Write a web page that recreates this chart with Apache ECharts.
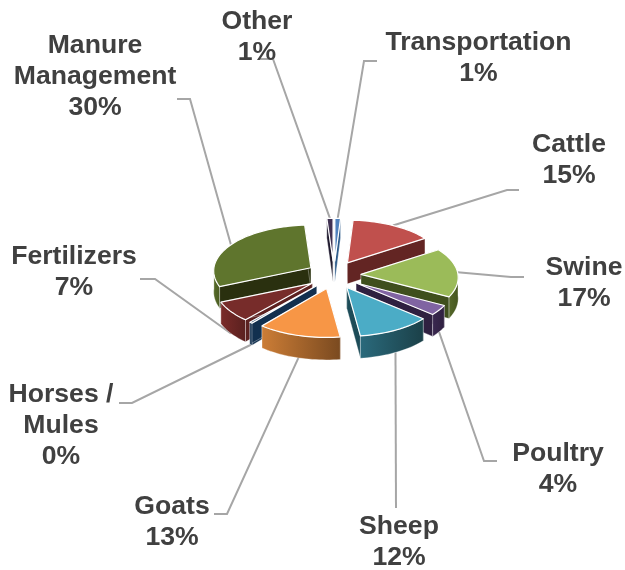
<!DOCTYPE html>
<html>
<head>
<meta charset="utf-8">
<style>html,body{margin:0;padding:0;background:#fff}#c{width:625px;height:570px}</style>
<script src="https://cdn.jsdelivr.net/npm/echarts@6/dist/echarts.min.js"></script>
</head>
<body>
<div id="c"></div>
<script>
// ---- data (share of total, clockwise from 12 o'clock)
var categories = ['Transportation','Cattle','Swine','Poultry','Sheep','Goats','Horses /\nMules','Fertilizers','Manure\nManagement','Other'];
var shares = [1.0,14.6,17.3,3.5,11.5,13.0,0.45,7.1,30.45,1.1];

// ---- styles
var topColors  = ['#4f81bd','#c0504d','#9bbb59','#8064a2','#4bacc6','#f79646','#17375e','#772c2a','#5f752d','#403152'];
var cutColors  = ['#2c5a8a','#632523','#3f4f1d','#2f2040','#1d4c58','#8a5020','#12304f','#5c2120','#2a300f','#1f1a2e'];
var rimColors  = [['#2c5a8a','#2c5a8a'],['#632523','#632523'],['#55682a','#44551f'],['#3a2850','#2f2040'],['#2a6a7c','#1b4048'],['#cc7d36','#7a4a20'],['#12304f','#12304f'],['#7a2b29','#5a201f'],['#566b28','#4a5c22'],['#1f1a2e','#1f1a2e']];

// ---- pie geometry
var CX = 334, CY = 275, RX = 97, RY = 45.85, PERSP = 0.0687, DEPTH = 21, EX = 27, EY = 14;

// ---- label layout: text centre [x,y], elbow start [x,y], elbow knee [x,y]
var labelCentres = [[478.5,58],[569,160],[584,283],[558,469],[399,542],[172,522],[61,426],[74,272],[95,77],[257,37]];
var leaderEnds   = [[377,61],[519,190],[524,277],[497,461],[396,508],[214,514],[119,403],[140,279],[177,99],[258,59]];
var leaderKnees  = [[364,61],[507,190],[511,277],[484,461],[396,508],[227,514],[132,403],[155,279],[190,99],[273,59]];

var total = shares.reduce(function(a,b){return a+b;},0);
var slices = [], cum = 0;
shares.forEach(function(v,i){
  var a0 = cum/total*360; cum += v; var a1 = cum/total*360;
  var mid = (a0+a1)/2*Math.PI/180;
  slices.push({i:i,a0:a0,a1:a1,mid:mid,ax:CX+EX*Math.sin(mid),ay:CY-EY*Math.cos(mid)});
});
function proj(s,deg,drop){
  var t = deg*Math.PI/180, c = Math.cos(t), k = 1-PERSP*c;
  return [s.ax+RX*Math.sin(t)*k, s.ay-RY*c*k+(drop?DEPTH*k:0)];
}
function arc(s,a,b,drop){
  var pts=[], n=Math.max(2,Math.ceil((b-a)/2));
  for(var j=0;j<=n;j++) pts.push(proj(s,a+(b-a)*j/n,drop));
  return pts;
}
var order = slices.slice().sort(function(p,q){return Math.cos(q.mid)-Math.cos(p.mid);});

function renderSlice(params){
  var s = order[params.dataIndex], i=s.i, kids=[];
  var apex=[s.ax,s.ay], apexD=[s.ax,s.ay+DEPTH];
  var edge={stroke:'rgba(255,255,255,0.55)',lineWidth:0.6};
  [s.a0,s.a1].forEach(function(a){
    kids.push({type:'polygon',shape:{points:[apex,proj(s,a,false),proj(s,a,true),apexD]},
      style:Object.assign({fill:cutColors[i]},edge)});
  });
  var a=Math.max(s.a0,90), b=Math.min(s.a1,270);
  if(b>a){
    var pts=arc(s,a,b,false).concat(arc(s,a,b,true).reverse());
    kids.push({type:'polygon',shape:{points:pts},style:Object.assign({
      fill:new echarts.graphic.LinearGradient(0,0,1,0,[{offset:0,color:rimColors[i][0]},{offset:1,color:rimColors[i][1]}])},edge)});
  }
  kids.push({type:'polygon',shape:{points:[apex].concat(arc(s,s.a0,s.a1,false))},
    style:{fill:topColors[i],stroke:'#fff',lineWidth:1.2,lineJoin:'round'}});
  return {type:'group',children:kids};
}
function renderLeader(params){
  var i=params.dataIndex, s=slices[i], t=s.mid*180/Math.PI;
  // slices in the front half are reached at the bottom of their rim, the rest at the top
  return {type:'polyline',shape:{points:[leaderEnds[i],leaderKnees[i],proj(s,t,Math.cos(s.mid)<0)]},
    style:{fill:null,stroke:'#a6a6a6',lineWidth:2}};
}
function renderLabel(params){
  var i=params.dataIndex;
  return {type:'text',style:{
    text:categories[i]+'\n'+Math.round(shares[i])+'%',
    x:labelCentres[i][0],y:labelCentres[i][1],align:'center',verticalAlign:'middle',
    font:'bold 26.6px "Liberation Sans", Arial, sans-serif',lineHeight:31,fill:'#404040'}};
}
var chart = echarts.init(document.getElementById('c'),null,{renderer:'canvas'});
chart.setOption({
  animation:false,
  backgroundColor:'#fff',
  series:[
    {type:'custom',coordinateSystem:'none',z:1,silent:true,renderItem:renderLeader,data:shares},
    {type:'custom',coordinateSystem:'none',z:2,silent:true,renderItem:renderSlice,data:order.map(function(s){return shares[s.i];})},
    {type:'custom',coordinateSystem:'none',z:3,silent:true,renderItem:renderLabel,data:shares}
  ]
});
</script>
</body>
</html>
